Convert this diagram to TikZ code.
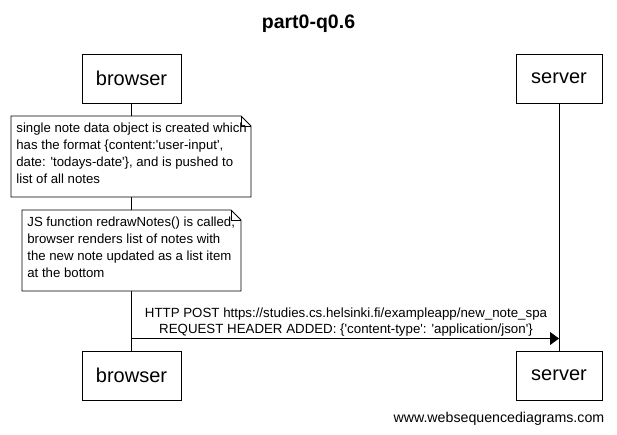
\documentclass[tikz,border=0pt]{standalone}
\usepackage{fontspec}
\setmainfont{Liberation Sans}[Ligatures=TeXOff]
\usetikzlibrary{arrows.meta}

\tikzset{
  actor/.style={draw, fill=white, minimum height=49pt, font=\fontsize{20}{22}\selectfont, inner sep=0pt},
  notetext/.style={align=left, anchor=north west, inner sep=0pt, font=\fontsize{13.2}{17}\selectfont},
  msgtext/.style={align=center, font=\fontsize{13.3}{16}\selectfont}
}

\begin{document}
\begin{tikzpicture}[x=1pt, y=-1pt, line width=0.8pt]
  \useasboundingbox (0,0) rectangle (617,434);
  \node[font=\bfseries\fontsize{19.5}{22}\selectfont] (title) at (308.5,23.5) {part0-q0.6};
  % actors
  \node[actor, minimum width=99pt] (btop) at (131.5,78.5) {browser};
  \node[actor, minimum width=86pt] (stop) at (559,78.5) {server};
  \node[actor, minimum width=99pt] (bbot) at (131.5,375.5) {browser};
  \node[actor, minimum width=86pt] (sbot) at (559,375.5) {server};
  % lifelines
  \draw (btop.south) -- (bbot.north);
  \draw (stop.south) -- (sbot.north);
  % notes
  \draw[fill=white] (11,116) -- (241,116) -- (251,126) -- (251,197) -- (11,197) -- cycle;
  \draw (241,116) -- (241,126) -- (251,126);
  \node[notetext] (note1) at (16,123) {single note data object is created which\\has the format \{content:'user-input',\\date: 'todays-date'\}, and is pushed to\\list of all notes};
  \draw[fill=white] (22,210) -- (231,210) -- (241,220) -- (241,291) -- (22,291) -- cycle;
  \draw (231,210) -- (231,220) -- (241,220);
  \node[notetext] (note2) at (27,217) {JS function redrawNotes() is called,\\browser renders list of notes with\\the new note updated as a list item\\at the bottom};
  % message
  \coordinate (from) at (131.5,338.5);
  \coordinate (to) at (559,338.5);
  \draw[-{Triangle[length=9pt, width=13pt]}] (from) -- (to);
  \node[msgtext] (msg) at (346,322.5) {HTTP POST https://studies.cs.helsinki.fi/exampleapp/new\_note\_spa\\REQUEST HEADER ADDED: \{'content-type': 'application/json'\}};
  \node[anchor=east, font=\fontsize{14.2}{16}\selectfont] (credit) at (608,419) {www.websequencediagrams.com};
\end{tikzpicture}
\end{document}
